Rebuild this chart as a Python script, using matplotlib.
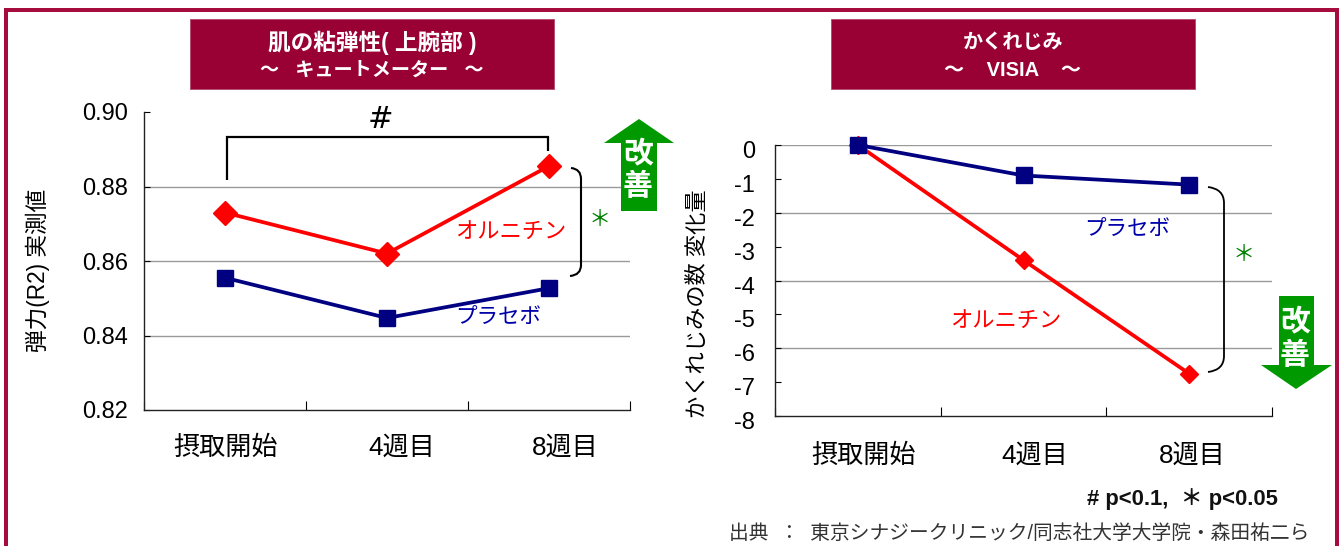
import matplotlib
matplotlib.use("Agg")
import matplotlib.pyplot as plt
from matplotlib.path import Path
from matplotlib.patches import PathPatch, Polygon, Rectangle
from matplotlib.transforms import ScaledTranslation

plt.rcParams['font.family'] = ['Liberation Sans', 'Noto Sans CJK JP', 'DejaVu Sans']

categories = ['摂取開始', '4週目', '8週目']
elastic_ornithine = [0.873, 0.862, 0.8855]
elastic_placebo = [0.8555, 0.8447, 0.8527]
elastic_ticks = [0.82, 0.84, 0.86, 0.88, 0.90]
wrinkle_ornithine = [0.0, -3.4, -6.75]
wrinkle_placebo = [0.0, -0.9, -1.17]
wrinkle_ticks = [0, -1, -2, -3, -4, -5, -6, -7, -8]

W, H = 1339, 546
RED, NAVY, MAROON, GREEN = '#FF0000', '#000080', '#990033', '#009900'
fig = plt.figure(figsize=(W / 100, H / 100), dpi=100, facecolor='white')
PX = 72 / 100


def make_axes(x0, x1, ytop, ybot):
    return fig.add_axes([x0 / W, 1 - ybot / H, (x1 - x0) / W, (ybot - ytop) / H])


def style(ax, ticks, grid, fmt, ymin, ymax, pad, shift, label_dx, label_pad):
    ax.set_xlim(-0.5, 2.5)
    ax.set_ylim(ymin, ymax)
    for s in ('top', 'right'):
        ax.spines[s].set_visible(False)
    for s in ('left', 'bottom'):
        ax.spines[s].set_color('#222222')
        ax.spines[s].set_linewidth(1.0)
    ax.set_yticks(ticks)
    ax.set_yticklabels([fmt.format(t) for t in ticks], fontsize=17)
    ax.tick_params(axis='y', direction='in', length=4.5, width=0.8, pad=pad)
    for lab in ax.get_yticklabels():
        lab.set_transform(lab.get_transform() + ScaledTranslation(0, -shift * PX / 72, fig.dpi_scale_trans))
    ax.set_xticks([0, 1, 2])
    ax.set_xticklabels(categories, fontsize=18.8)
    ax.tick_params(axis='x', which='major', length=0, pad=label_pad)
    for lab, dx in zip(ax.get_xticklabels(), label_dx):
        lab.set_transform(lab.get_transform() + ScaledTranslation(dx * PX / 72, 0, fig.dpi_scale_trans))
    ax.set_xticks([-0.5, 0.5, 1.5, 2.5], minor=True)
    ax.tick_params(axis='x', which='minor', direction='in', length=6.5, width=0.8)
    for g in grid:
        ax.axhline(g, color='#9a9a9a', lw=1.0, zorder=1)


# left panel
ax1 = make_axes(144, 630, 112, 410)
style(ax1, elastic_ticks, [0.84, 0.86, 0.88], '{:.2f}', 0.82, 0.90, 11.5, 0, [1, 15, 16], 18.4)
ax1.plot(categories, elastic_ornithine, color=RED, lw=2.7, marker='D', ms=12.5, mec=RED, zorder=3)
ax1.plot(categories, elastic_placebo, color=NAVY, lw=2.7, marker='s', ms=11.5, mec=NAVY, zorder=3)
ax1.set_ylabel('弾力(R2) 実測値', fontsize=16.3, va='center')
ax1.yaxis.set_label_coords(38 / W, 1 - 270 / H, transform=fig.transFigure)

# right panel
ax2 = make_axes(775, 1272, 145, 416)
style(ax2, wrinkle_ticks, [0, -2, -4, -6], '{:d}', -8, 0, 14.4, 4.5, [6, 11, 3], 19.8)
ax2.plot(categories, wrinkle_ornithine, color=RED, lw=2.7, marker='D', ms=9.5, mec=RED, zorder=3)
ax2.plot(categories, wrinkle_placebo, color=NAVY, lw=2.7, marker='s', ms=11, mec=NAVY, zorder=3, clip_on=False)
ax2.set_ylabel('かくれじみの数 変化量', fontsize=16, va='center')
ax2.yaxis.set_label_coords(698 / W, 1 - 304 / H, transform=fig.transFigure)
ax1.lines[-1].set_clip_on(False)
ax2.lines[-2].set_clip_on(False)

# overlay in pixel coordinates for the annotations
ov = fig.add_axes([0, 0, 1, 1], zorder=10)
ov.set_xlim(0, W)
ov.set_ylim(H, 0)
ov.axis('off')

# frame, open at the bottom
ov.plot([6, 6, 1337, 1337], [H + 5, 10, 10, H + 5], color='#A60D3E', lw=4 * PX, solid_joinstyle='miter')


def title(x0, x1, line1, line2, size1, size2):
    ov.add_patch(Rectangle((x0, 19), x1 - x0, 70, fc=MAROON, ec='#B5476B', lw=0.6))
    c = (x0 + x1) / 2
    ov.text(c, 43, line1, color='white', fontsize=size1, fontweight='bold', ha='center', va='center')
    ov.text(c, 71, line2, color='white', fontsize=size2, fontweight='bold', ha='center', va='center')


title(190, 554, '肌の粘弾性( 上腕部 )', '～   キュートメーター   ～', 16.3, 13.8)
title(831, 1195, 'かくれじみ', '～    VISIA    ～', 14.5, 14.5)


def bracket(verts, codes, lw=1.5):
    ov.add_patch(PathPatch(Path(verts, codes), fc='none', ec='black', lw=lw))


M, L, C = Path.MOVETO, Path.LINETO, Path.CURVE3
bracket([(227, 180), (227, 137), (548, 137), (548, 151)], [M, L, L, L], 1.6)
bracket([(571, 168), (581, 169), (581, 179), (581, 265), (581, 275), (570, 276)], [M, C, C, L, C, C], 1.5)
bracket([(1208, 187), (1224, 189), (1224, 203), (1224, 356), (1224, 370), (1208, 372)], [M, C, C, L, C, C], 1.3)

ov.text(380, 119, '#', fontsize=22, ha='center', va='center', color='black', family='DejaVu Sans')
ov.text(600, 220, '＊', fontsize=16, ha='center', va='center', color='#008000')
ov.text(1244, 255, '＊', fontsize=16, ha='center', va='center', color='#008000')

# improvement arrows
ov.add_patch(Polygon([(639, 119), (674, 143), (657, 143), (657, 211), (621, 211), (621, 143), (604, 143)], fc=GREEN, ec='none'))
ov.add_patch(Polygon([(1296, 389), (1332, 365), (1314, 365), (1314, 296), (1279, 296), (1279, 365), (1261, 365)], fc=GREEN, ec='none'))
for x, y, s in [(638, 155, '改'), (638, 187, '善'), (1295, 323, '改'), (1295, 356, '善')]:
    ov.text(x, y, s, color='white', fontsize=21.5, fontweight='bold', ha='center', va='center')

# series labels
ov.text(511, 232, 'オルニチン', color=RED, fontsize=16, ha='center', va='center')
ov.text(498, 318, 'プラセボ', color='#0000AA', fontsize=15.5, ha='center', va='center')
ov.text(1127, 230, 'プラセボ', color='#0000AA', fontsize=15.5, ha='center', va='center')
ov.text(1006, 321, 'オルニチン', color=RED, fontsize=16, ha='center', va='center')

# footnotes
ov.text(1087, 499, '# p<0.1,  ＊ p<0.05', fontsize=15.8, fontweight='bold', ha='left', va='center', color='#111111')
ov.text(729, 533, '出典  ：  東京シナジークリニック/同志社大学大学院・森田祐二ら', fontsize=14.2, ha='left', va='center', color='#333333')

fig.savefig('out.png', dpi=100, facecolor='white')
